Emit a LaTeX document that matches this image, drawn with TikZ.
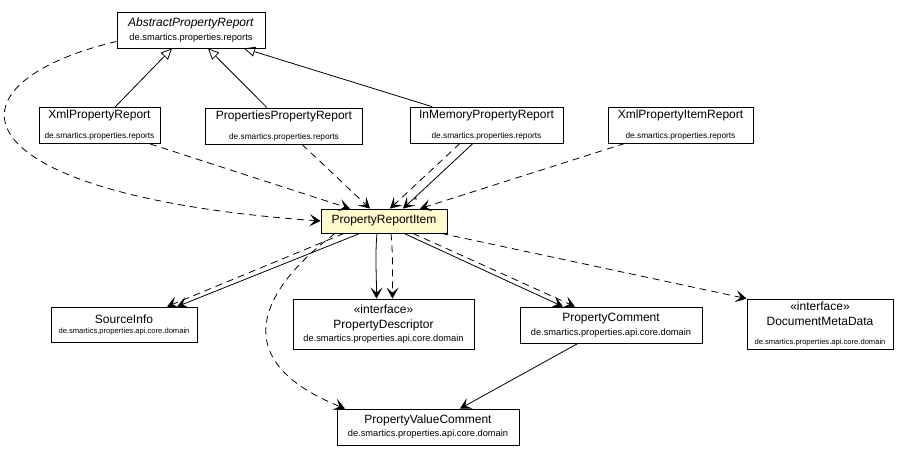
\documentclass[tikz,border=0pt]{standalone}
\usepackage{fontspec}
\setmainfont{Liberation Sans}
\usepackage{xcolor}
\usetikzlibrary{arrows.meta, positioning}
\definecolor{itemfill}{RGB}{255,250,205}
\newcommand\pkgbig{\fontsize{9.3}{10}\selectfont}
\newcommand\pkgmid{\fontsize{8.3}{9}\selectfont}
\newcommand\pkgsmall{\fontsize{7.6}{8}\selectfont}

\begin{document}
\begin{tikzpicture}[x=1pt,y=-1pt,>={Stealth[length=11pt,width=12pt,inset=5pt]},
        every node/.style={font=\fontsize{12}{13}\selectfont},
        cls/.style={draw,line width=0.8pt,fill=white,align=center,inner sep=0pt},
        dep/.style={->,dash pattern=on 7pt off 5pt,line width=0.8pt},
        assoc/.style={->,line width=0.8pt},
        ext/.style={-{Triangle[open,length=11pt,width=10pt]},line width=0.8pt}]

        \fill[white] (0,0) rectangle (910,456);
        \useasboundingbox (0,0) rectangle (910,456);

        \node[cls,minimum width=148pt,minimum height=36pt] (abs) at (191,30) {\textit{AbstractPropertyReport}\\[1pt]{\pkgbig de.smartics.properties.reports}};

        \node[cls,minimum width=121pt,minimum height=36pt] (xmlrep) at (99.5,125.5) {XmlPropertyReport\\[7pt]{\pkgmid de.smartics.properties.reports}};
        \node[cls,minimum width=157pt,minimum height=36pt] (propsrep) at (284,126) {PropertiesPropertyReport\\[7pt]{\pkgmid de.smartics.properties.reports}};
        \node[cls,minimum width=153pt,minimum height=36pt] (inmem) at (486.5,125) {InMemoryPropertyReport\\[7pt]{\pkgmid de.smartics.properties.reports}};
        \node[cls,minimum width=145pt,minimum height=36pt] (xmlitem) at (680.5,125) {XmlPropertyItemReport\\[7pt]{\pkgmid de.smartics.properties.reports}};

        \node[cls,fill=itemfill,minimum width=126pt,minimum height=24pt] (pri) at (384,221) {PropertyReportItem};

        \node[cls,minimum width=146pt,minimum height=35pt] (srcinfo) at (124,324.5) {SourceInfo\\[-3pt]{\pkgsmall de.smartics.properties.api.core.domain}};
        \node[cls,minimum width=181pt,minimum height=50pt] (pdesc) at (383.5,324) {«interface»\\[2pt]PropertyDescriptor\\[0pt]{\pkgbig de.smartics.properties.api.core.domain}};
        \node[cls,minimum width=182pt,minimum height=36pt] (pcomm) at (611,325) {PropertyComment\\[1pt]{\pkgbig de.smartics.properties.api.core.domain}};
        \node[cls,minimum width=146pt,minimum height=50pt] (dmeta) at (820,324) {«interface»\\[2pt]DocumentMetaData\\[6pt]{\pkgsmall de.smartics.properties.api.core.domain}};
        \node[cls,minimum width=182pt,minimum height=36pt] (pvc) at (428,427) {PropertyValueComment\\[0pt]{\pkgbig de.smartics.properties.api.core.domain}};

        % generalisation
        \draw[ext] ([xshift=15.5pt]xmlrep.north) -- ([xshift=-19pt]abs.south);
        \draw[ext] ([xshift=-17pt]propsrep.north) -- ([xshift=17pt]abs.south);
        \draw[ext] ([xshift=-54.5pt]inmem.north) -- ([xshift=53pt]abs.south);

        % into the report item
        \draw[dep] ([yshift=7pt]abs.south west) .. controls (-65,85) and (-45,195) .. (pri.west);
        \draw[dep] ([xshift=50.5pt]xmlrep.south) -- ([xshift=-34pt]pri.north);
        \draw[dep] ([xshift=18pt]propsrep.south) -- ([xshift=-14pt]pri.north);
        \draw[dep] ([xshift=-26.5pt]inmem.south) -- ([xshift=6pt]pri.north);
        \draw[assoc] ([xshift=-13.5pt]inmem.south) -- node[pos=0.88,right=1pt,inner sep=1pt,font=\fontsize{9}{9}\selectfont] {*} ([xshift=19pt]pri.north);
        \draw[dep] ([xshift=-55.5pt]xmlitem.south) -- ([xshift=36pt]pri.north);

        % out of the report item
        \draw[dep] ([xshift=-40pt]pri.south) -- ([xshift=43pt]srcinfo.north);
        \draw[assoc] ([xshift=-24pt]pri.south) -- ([xshift=53pt]srcinfo.north);
        \draw[assoc] ([xshift=-7pt]pri.south) .. controls +(-2,22) and +(0,-25) .. ([xshift=-7pt]pdesc.north);
        \draw[dep] ([xshift=7pt]pri.south) .. controls +(2,22) and +(0,-25) .. ([xshift=9pt]pdesc.north);
        \draw[assoc] ([xshift=20pt]pri.south) -- ([xshift=-48pt]pcomm.north);
        \draw[dep] ([xshift=29pt]pri.south) -- ([xshift=-36pt]pcomm.north);
        \draw[dep] ([xshift=-6pt]pri.south east) -- (dmeta.north west);
        \draw[dep] ([xshift=-49pt]pri.south) .. controls (260,290) and (225,360) .. ([xshift=-83pt]pvc.north);
        \draw[assoc] ([xshift=-33pt]pcomm.south) -- ([xshift=32pt]pvc.north);
\end{tikzpicture}
\end{document}
